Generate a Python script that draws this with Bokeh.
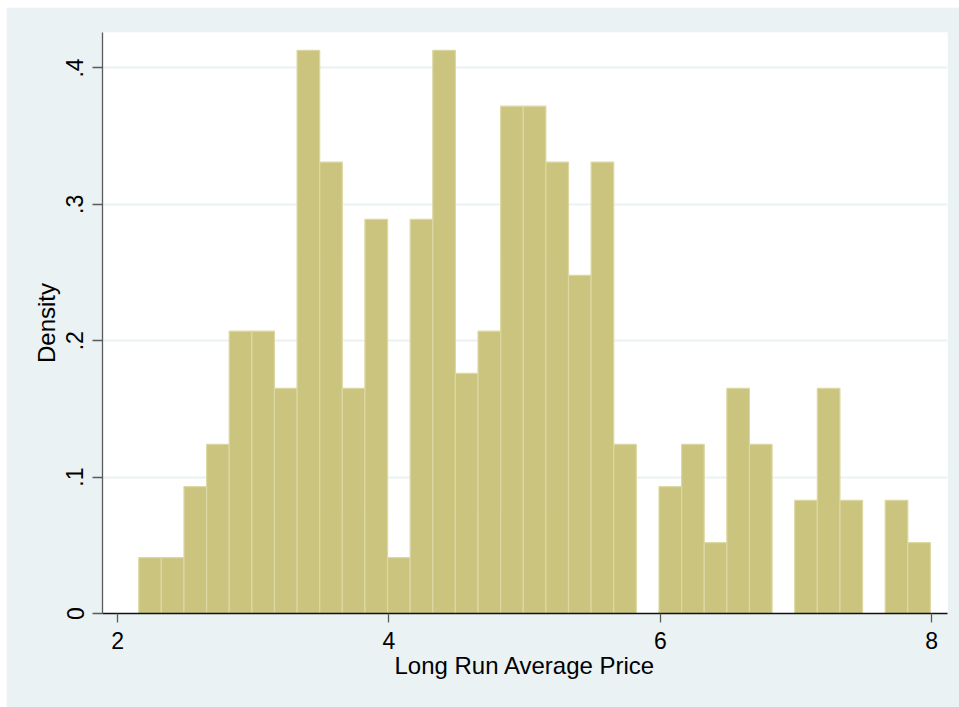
from bokeh.plotting import figure
from bokeh.embed import file_html
from bokeh.resources import INLINE
from bokeh.models import Range1d, FixedTicker

# Histogram bins (Long Run Average Price) and densities
bin_start = 2.156
bin_width = 0.16669
density = [0.041, 0.041, 0.093, 0.124, 0.207, 0.207, 0.165, 0.413, 0.331, 0.165,
           0.289, 0.041, 0.289, 0.413, 0.176, 0.207, 0.372, 0.372, 0.331, 0.248,
           0.331, 0.124, 0.0, 0.093, 0.124, 0.052, 0.165, 0.124, 0.0, 0.083,
           0.165, 0.083, 0.0, 0.083, 0.052]
x_ticks = [2, 4, 6, 8]
y_ticks = [0, 0.1, 0.2, 0.3, 0.4]
y_tick_labels = ["0", ".1", ".2", ".3", ".4"]

lefts = [bin_start + i * bin_width for i in range(len(density))]
rights = [l + bin_width for l in lefts]

BG = "#eaf2f3"
FILL = "#cbc47f"
EDGE = "#dcd8a4"
FONT = "Liberation Sans"

p = figure(width=953, height=700, output_backend="svg", toolbar_location=None,
           x_range=Range1d(1.889, 8.116), y_range=Range1d(0, 0.426),
           min_border_left=96, min_border_top=25, min_border_right=12,
           min_border_bottom=94)
p.margin = (7, 0, 0, 6)
p.background_fill_color = "white"
p.border_fill_color = BG
p.outline_line_color = None

p.quad(left=lefts, right=rights, bottom=0, top=density,
       fill_color=FILL, line_color=EDGE, line_width=1.2)

p.xgrid.visible = False
p.ygrid.ticker = FixedTicker(ticks=y_ticks[1:])
p.ygrid.grid_line_color = BG
p.ygrid.grid_line_width = 2
p.ygrid.level = "underlay"

# x axis
xa = p.xaxis[0]
xa.ticker = FixedTicker(ticks=x_ticks)
xa.axis_line_color = "#111111"
xa.axis_line_width = 1.3
xa.major_tick_line_color = "#5a5a5a"
xa.major_tick_line_width = 1.3
xa.major_tick_out = 9
xa.major_tick_in = 0
xa.minor_tick_line_color = None
xa.major_label_text_font = FONT
xa.major_label_text_font_size = "23px"
xa.major_label_text_color = "black"
xa.major_label_standoff = 9
xa.axis_label = "Long Run Average Price"
xa.axis_label_text_font = FONT
xa.axis_label_text_font_size = "24px"
xa.axis_label_text_font_style = "normal"
xa.axis_label_text_color = "black"
xa.axis_label_standoff = 0

# y axis
ya = p.yaxis[0]
ya.ticker = FixedTicker(ticks=y_ticks)
ya.major_label_overrides = {t: s for t, s in zip(y_ticks, y_tick_labels)}
ya.axis_line_color = "#5a5a5a"
ya.axis_line_width = 1.3
ya.major_tick_line_color = "#5a5a5a"
ya.major_tick_line_width = 1.3
ya.major_tick_out = 10
ya.major_tick_in = 0
ya.minor_tick_line_color = None
ya.major_label_orientation = "vertical"
ya.major_label_text_font = FONT
ya.major_label_text_font_size = "23px"
ya.major_label_text_color = "black"
ya.major_label_standoff = 9
ya.axis_label = "Density"
ya.axis_label_text_font = FONT
ya.axis_label_text_font_size = "24px"
ya.axis_label_text_font_style = "normal"
ya.axis_label_text_color = "black"
ya.axis_label_standoff = 4

open("out.html", "w").write(file_html(p, INLINE))
